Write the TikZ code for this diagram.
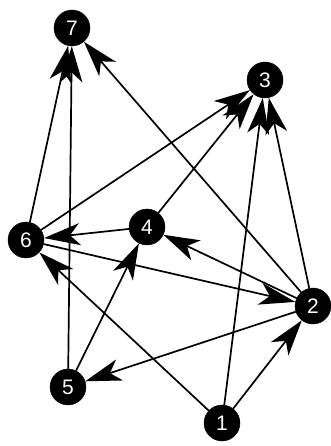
\documentclass[tikz,border=0pt]{standalone}
\usepackage{fontspec}
\setmainfont{Liberation Sans}
\usetikzlibrary{arrows.meta}
\begin{document}
\begin{tikzpicture}[x=1pt,y=-1pt,
  vtx/.style={circle,fill=black,draw=black,inner sep=0pt,minimum size=36pt,
    text=white,font=\fontsize{21}{21}\selectfont},
  edge/.style={line width=1.7pt,-{Stealth[length=36pt,width=22pt,inset=10pt]}}]
\useasboundingbox (0,0) rectangle (330,446);
\node[vtx] (n7) at (72,28) {7};
\node[vtx] (n3) at (265,80) {3};
\node[vtx] (n6) at (26,240) {6};
\node[vtx] (n4) at (147,227) {4};
\node[vtx] (n2) at (313,306) {2};
\node[vtx] (n5) at (68,387) {5};
\node[vtx] (n1) at (222,423) {1};
\draw[edge] (n6) -- (n7);
\draw[edge] (n5) -- (n7);
\draw[edge] (n2) -- (n7);
\draw[edge] (n6) -- (n3);
\draw[edge] (n4) -- (n3);
\draw[edge] (n1) -- (n3);
\draw[edge] (n2) -- (n3);
\draw[edge] (n4) -- (n6);
\draw[edge] (n1) -- (n6);
\draw[edge] (n6) -- (n2);
\draw[edge] (n2) -- (n4);
\draw[edge] (n5) -- (n4);
\draw[edge] (n2) -- (n5);
\draw[edge] (n1) -- (n2);
\end{tikzpicture}
\end{document}
